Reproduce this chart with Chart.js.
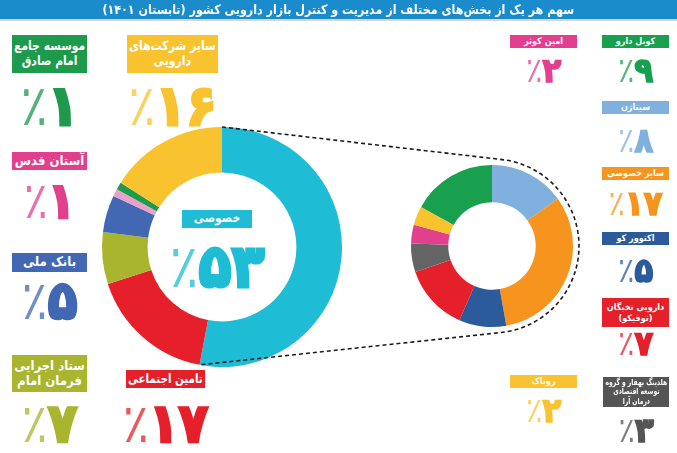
<!DOCTYPE html>
<html><head><meta charset="utf-8">
<script src="https://cdn.jsdelivr.net/npm/chart.js@4"></script>
<style>
html,body{margin:0;padding:0;background:#fff;width:677px;height:453px;overflow:hidden;}
#wrap{position:relative;width:677px;height:453px;font-family:"DejaVu Sans Condensed","DejaVu Sans",sans-serif;}
canvas{position:absolute;left:0;top:0;}
#title{position:absolute;left:0;top:0;width:677px;height:19px;background:#1a8bcb;color:#fff;font-weight:bold;font-size:13px;line-height:19px;text-align:center;direction:rtl;box-shadow:0 2px 0 #d6d6d6;z-index:5;}
#title span{display:inline-block;transform:scaleX(0.95);}
.box{position:absolute;color:#fff;font-weight:bold;text-align:center;direction:rtl;display:flex;align-items:center;justify-content:center;overflow:visible;z-index:5;}
.box span{display:inline-block;white-space:pre;line-height:1.12;transform-origin:center center;}
.num{position:absolute;font-weight:bold;direction:ltr;white-space:nowrap;display:flex;justify-content:center;line-height:1;width:200px;z-index:5;}
.num .p{font-weight:normal;opacity:.75;}
.num .d{-webkit-text-stroke:0.05em currentColor;}
</style></head>
<body><div id="wrap">
<div id="title"><span></span></div>
<canvas id="big" width="677" height="453"></canvas>
<canvas id="small" width="677" height="453"></canvas>
</div>
<script>
// ---- data ----
const titleText = 'سهم هر یک از بخش‌های مختلف از مدیریت و کنترل بازار دارویی کشور (تابستان ۱۴۰۱)';
const bigLabels = ['خصوصی', 'تامین اجتماعی', 'ستاد اجرایی\nفرمان امام', 'بانک ملی', 'آستان قدس', 'موسسه جامع\nامام صادق', 'سایر شرکت‌های\nدارویی'];
const bigValues = [53, 17, 7, 5, 1, 1, 16];
const bigColors = ['#1fbcd5', '#e5202b', '#a9b52f', '#4268b4', '#e9a0cb', '#1d9a4b', '#f9c32f'];
const bigLabelColors = ['#1fbcd5', '#e5202b', '#a9b52f', '#4268b4', '#e0408c', '#1d9a4b', '#f9c32f'];

const smallLabels = ['سیناژن', 'سایر خصوصی', 'اکتوور کو', 'دارویی نخبگان\n(نوفیکو)', 'هلدینگ بهفار و گروه\nتوسعه اقتصادی\nدرمان آرا', 'امین کوثر', 'روناک', 'کوبل دارو'];
const smallValues = [8, 17, 5, 7, 3, 2, 2, 9];
const smallColors = ['#7fb0de', '#f7941e', '#2b5b9b', '#e5202b', '#646464', '#e2408f', '#f9c32f', '#18a04f'];
const smallLabelColors = ['#7fb0de', '#f7941e', '#2b5b9b', '#e5202b', '#555555', '#e2408f', '#f9c32f', '#18a04f'];

// ---- layout of annotation boxes: [left, top, width, height, boxFont, numberGlyphTop, numberFont] ----
const bigLayout = [
  [182, 210, 70, 18, 12, 243, 60],
  [126, 370, 79, 18, 13, 403, 54],
  [12, 355, 75, 37, 13, 403, 54],
  [12, 253, 75, 19, 13, 280, 54],
  [12, 152, 75, 18, 13, 182, 50],
  [12, 35, 75, 38, 13, 85, 56],
  [127, 35, 91, 38, 13, 85, 56]
];
const smallLayout = [
  [602, 101, 67, 13, 9, 127, 34],
  [602, 167, 67, 13, 9, 190, 34],
  [602, 232, 67, 13, 9, 257, 34],
  [602, 298, 67, 29, 9, 330, 34],
  [603, 377, 66, 30, 8.5, 417, 34],
  [510, 35, 67, 13, 9, 57, 34],
  [510, 375, 67, 13, 9, 397, 34],
  [602, 35, 67, 13, 9, 57, 34]
];

const fa = n => String(n).replace(/\d/g, d => '۰۱۲۳۴۵۶۷۸۹'[d]);
const wrap = document.getElementById('wrap');
document.querySelector('#title span').textContent = titleText;

function addLabels(labels, values, colors, layout) {
  labels.forEach((lab, i) => {
    const [l, t, w, h, bf, nt, nf] = layout[i];
    const b = document.createElement('div');
    b.className = 'box';
    b.style.cssText = `left:${l}px;top:${t}px;width:${w}px;height:${h}px;font-size:${bf}px;background:${colors[i]};`;
    const sp = document.createElement('span');
    sp.textContent = lab;
    b.appendChild(sp);
    wrap.appendChild(b);
    const sw = sp.offsetWidth, sh = sp.offsetHeight;
    const sx = Math.min(1, (w - 4) / sw), sy = Math.min(1, (h - 1) / sh);
    if (sx < 1 || sy < 1) sp.style.transform = `scale(${sx},${sy})`;
    const n = document.createElement('div');
    n.className = 'num';
    n.style.cssText = `left:${l + w / 2 - 100}px;top:${nt - 0.12 * nf}px;font-size:${nf}px;color:${colors[i]};`;
    n.innerHTML = `<span class="p">٪</span><span class="d">${fa(values[i])}</span>`;
    wrap.appendChild(n);
  });
}
addLabels(bigLabels, bigValues, bigLabelColors, bigLayout);
addLabels(smallLabels, smallValues, smallLabelColors, smallLayout);

const common = {
  responsive: false, animation: false, events: [],
  plugins: { legend: { display: false }, tooltip: { enabled: false } }
};

const bigChart = new Chart(document.getElementById('big'), {
  type: 'doughnut',
  data: { labels: bigLabels, datasets: [{ data: bigValues, backgroundColor: bigColors, borderWidth: 0 }] },
  options: Object.assign({}, common, { cutout: '62%', layout: { padding: { left: 102, right: 335, top: 127, bottom: 86 } } })
});

const connector = {
  id: 'connector',
  afterDraw(chart) {
    const b = bigChart.getDatasetMeta(0).data[0];
    const s = chart.getDatasetMeta(0).data[0];
    const R = b.outerRadius;
    const P = { x: b.x + R * Math.cos(b.startAngle), y: b.y + R * Math.sin(b.startAngle) };
    const Q = { x: b.x + R * Math.cos(b.endAngle), y: b.y + R * Math.sin(b.endAngle) };
    const r = s.outerRadius + 6;
    const tang = (pt, sign) => {
      const dx = pt.x - s.x, dy = pt.y - s.y;
      return Math.atan2(dy, dx) + sign * Math.acos(r / Math.hypot(dx, dy));
    };
    const a1 = tang(P, 1), a2 = tang(Q, -1);
    const ctx = chart.ctx;
    ctx.save();
    ctx.strokeStyle = '#1a1a1a';
    ctx.lineWidth = 1.6;
    ctx.setLineDash([4, 3]);
    ctx.beginPath();
    ctx.moveTo(P.x, P.y);
    ctx.lineTo(s.x + r * Math.cos(a1), s.y + r * Math.sin(a1));
    ctx.arc(s.x, s.y, r, a1, a2, false);
    ctx.lineTo(Q.x, Q.y);
    ctx.stroke();
    ctx.restore();
  }
};

const smallChart = new Chart(document.getElementById('small'), {
  type: 'doughnut',
  data: { labels: smallLabels, datasets: [{ data: smallValues, backgroundColor: smallColors, borderWidth: 0 }] },
  options: Object.assign({}, common, { cutout: '54%', layout: { padding: { left: 411, right: 104, top: 165, bottom: 126 } } }),
  plugins: [connector]
});
</script>
</body></html>
